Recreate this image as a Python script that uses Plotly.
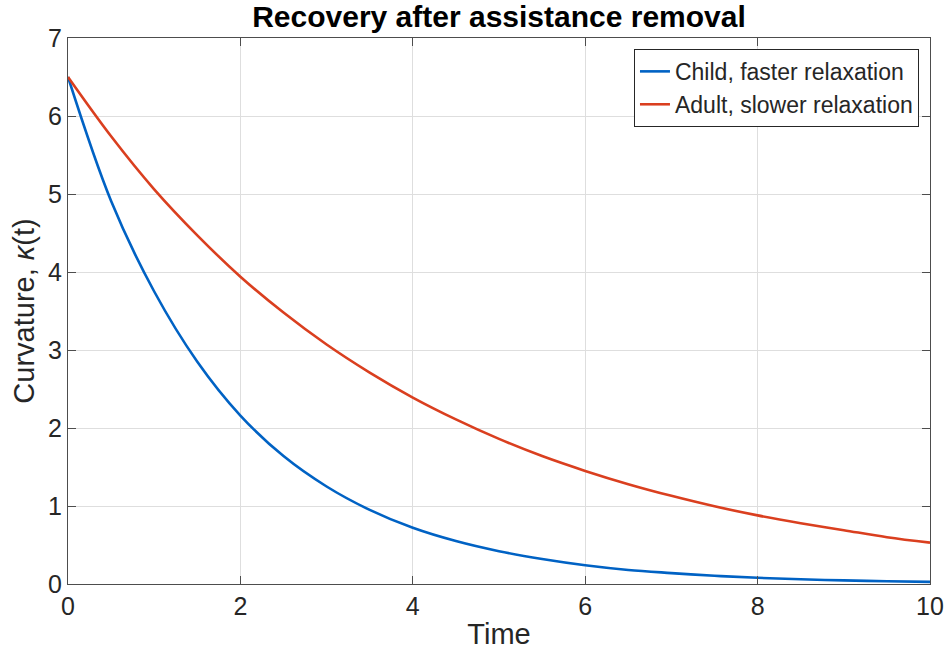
import plotly.graph_objects as go

time = [0, 0.5, 1, 1.5, 2, 2.5, 3, 3.5, 4, 4.5, 5, 5.5, 6, 6.5, 7, 7.5, 8, 8.5, 9, 9.5, 10]
child = [6.5, 4.91, 3.75, 2.85, 2.16, 1.64, 1.25, 0.95, 0.72, 0.55, 0.42, 0.32, 0.24,
         0.18, 0.14, 0.105, 0.08, 0.06, 0.046, 0.035, 0.027]
adult = [6.5, 5.74, 5.06, 4.47, 3.94, 3.48, 3.07, 2.71, 2.39, 2.11, 1.86, 1.64, 1.45,
         1.28, 1.13, 0.996, 0.88, 0.78, 0.69, 0.60, 0.53]

FONT = "Liberation Sans, Arial, Helvetica, sans-serif"
AX = "#262626"
LINE = "#4d4d4d"

fig = go.Figure()
fig.add_trace(go.Scatter(x=time, y=child, mode="lines", name="Child, faster relaxation",
                         line=dict(color="#0062C4", width=2.6, shape="spline")))
fig.add_trace(go.Scatter(x=time, y=adult, mode="lines", name="Adult, slower relaxation",
                         line=dict(color="#DA3F1F", width=2.6, shape="spline")))

fig.update_layout(
    width=947, height=650,
    margin=dict(l=68, r=17, t=38, b=66, autoexpand=False),
    paper_bgcolor="white", plot_bgcolor="white",
    font=dict(family=FONT, size=25, color=AX),
    title=dict(text="<b>Recovery after assistance removal</b>", x=0.5, xanchor="center",
               xref="paper", y=0.975, yanchor="middle", yref="container",
               font=dict(family=FONT, size=30, color="#000000")),
    showlegend=True,
    legend=dict(x=0.9872, y=0.98, xanchor="right", yanchor="top",
                bgcolor="white", bordercolor=AX, borderwidth=1,
                font=dict(family=FONT, size=23, color=AX),
                tracegroupgap=0, itemwidth=30),
    xaxis=dict(range=[0, 10], tickvals=[0, 2, 4, 6, 8, 10], showgrid=True,
               gridcolor="#dedede", gridwidth=1, zeroline=False, automargin=False,
               showline=True, linecolor=LINE, linewidth=1.2, mirror="ticks",
               ticks="inside", ticklen=8, tickcolor=LINE,
               tickfont=dict(size=25, color=AX),
               title=dict(text="Time", font=dict(size=29, color=AX), standoff=5)),
    yaxis=dict(range=[0, 7], tickvals=[0, 1, 2, 3, 4, 5, 6, 7], showgrid=True,
               gridcolor="#dedede", gridwidth=1, zeroline=False, automargin=False,
               showline=True, linecolor=LINE, linewidth=1.2, mirror="ticks",
               ticks="inside", ticklen=8, tickcolor=LINE,
               tickfont=dict(size=25, color=AX),
               title=dict(text="Curvature, <i>κ</i>(t)", font=dict(size=29, color=AX), standoff=4)),
)

fig.write_html("out.html", config={"displayModeBar": False},
               post_script="document.body.style.margin='0px';")
